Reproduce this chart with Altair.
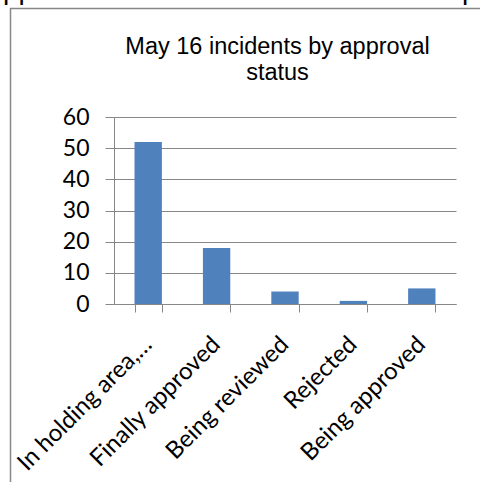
import altair as alt
import pandas as pd

categories = ["In holding area,…", "Finally approved", "Being reviewed", "Rejected", "Being approved"]
values = [52, 18, 4, 1, 5]
y_ticks = [0, 10, 20, 30, 40, 50, 60]
title_lines = ["May 16 incidents by approval", "status"]

df = pd.DataFrame({"status": categories, "count": values})

GREY = "#878787"
LEFT, TOP, W, H = 114, 117, 342, 187

bars = alt.Chart(df).mark_bar(color="#4F81BD").encode(
    x=alt.X("status:N", sort=categories,
            scale=alt.Scale(paddingInner=0.6, paddingOuter=0.3),
            axis=alt.Axis(title=None, labelAngle=-45, labelFont="Lato", labelFontSize=24,
                          labelColor="#000000", tickBand="extent", tickSize=8,
                          tickColor=GREY, domainColor=GREY, labelPadding=20,
                          labelOffset=-9, labelLimit=300)),
    y=alt.Y("count:Q", scale=alt.Scale(domain=[0, 60], nice=False),
            axis=alt.Axis(title=None, values=y_ticks, labelFont="Lato", labelFontSize=23,
                          labelColor="#000000", tickSize=9, tickColor=GREY,
                          domainColor=GREY, gridColor=GREY, labelPadding=16)),
)

title = alt.Chart(pd.DataFrame({"t": [0]})).mark_text(
    text=title_lines, font="Liberation Sans", fontSize=23.5, lineHeight=26,
    align="center", baseline="alphabetic", color="#000000"
).encode(x=alt.value(277.5 - LEFT), y=alt.value(54 - TOP))

frame_top = alt.Chart(pd.DataFrame({"t": [0]})).mark_rule(color=GREY, strokeWidth=1.5).encode(
    x=alt.value(10 - LEFT), x2=alt.value(480 - LEFT), y=alt.value(8.5 - TOP))
frame_left = alt.Chart(pd.DataFrame({"t": [0]})).mark_rule(color=GREY, strokeWidth=1.5).encode(
    x=alt.value(10.5 - LEFT), y=alt.value(8 - TOP), y2=alt.value(482 - TOP))

cut_left = alt.Chart(pd.DataFrame({"t": [0]})).mark_text(
    text="pp", font="Liberation Sans", fontSize=28, align="left", baseline="alphabetic",
    color="#000000").encode(x=alt.value(3 - LEFT), y=alt.value(-1 - TOP))
cut_right = alt.Chart(pd.DataFrame({"t": [0]})).mark_text(
    text="p", font="Liberation Sans", fontSize=28, align="left", baseline="alphabetic",
    color="#000000").encode(x=alt.value(462 - LEFT), y=alt.value(-1 - TOP))

chart = alt.layer(bars, title, frame_top, frame_left, cut_left, cut_right).properties(
    width=W, height=H,
    autosize=alt.AutoSizeParams(type="none"),
    padding={"left": LEFT, "top": TOP, "right": 480 - LEFT - W, "bottom": 482 - TOP - H},
    background="#ffffff",
).configure_view(stroke=None)

chart.save("out.html", embed_options={"renderer": "svg", "actions": False})
